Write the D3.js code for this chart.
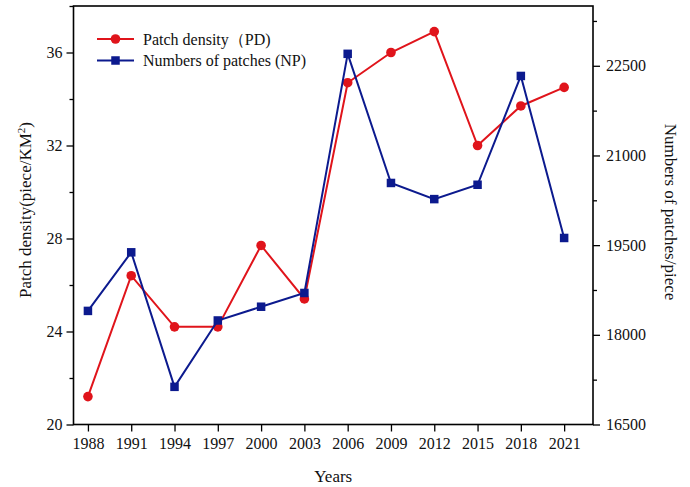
<!DOCTYPE html>
<html>
<head>
<meta charset="utf-8">
<script src="https://cdn.jsdelivr.net/npm/d3@7"></script>
<style>
  html, body { margin: 0; padding: 0; background: #fff; }
  svg { display: block; font-family: "Liberation Serif", "Times New Roman", serif; }
</style>
</head>
<body>
<svg id="chart" width="690" height="487"></svg>
<script>
// Landscape fragmentation metrics by survey year
const years = [1988, 1991, 1994, 1997, 2000, 2003, 2006, 2009, 2012, 2015, 2018, 2021];
const patchDensity = [21.2, 26.4, 24.2, 24.2, 27.7, 25.4, 34.7, 36.0, 36.9, 32.0, 33.7, 34.5];
const patchCount = [18400, 19380, 17130, 18240, 18470, 18700, 22700, 20540, 20270, 20510, 22330, 19620];
const leftTicks = [20, 24, 28, 32, 36];
const rightTicks = [16500, 18000, 19500, 21000, 22500];

const svg = d3.select("#chart");
const m = { left: 73.5, right: 593, top: 6, bottom: 424.5 };
const red = "#e0141b", blue = "#0c1a8e";

const x = d3.scaleLinear().domain([1987, 2023]).range([m.left, m.right]);
const yL = d3.scaleLinear().domain([20, 38]).range([m.bottom, m.top]);
const yR = d3.scaleLinear().domain([16500, 23500]).range([m.bottom, m.top]);

const fontSize = 16;
const titleSize = 17;

// Minor ticks (unlabelled) then major ticks
function drawAxis(axis, transform) {
  const g = svg.append("g").attr("transform", transform).call(axis);
  g.select(".domain").remove();
  g.selectAll("line").attr("stroke", "#000").attr("stroke-width", 1.3);
  g.selectAll("text").attr("font-size", fontSize).attr("fill", "#111")
    .attr("font-family", "Liberation Serif, serif");
  return g;
}

const leftMinor = d3.range(22, 39, 4);
const rightMinor = d3.range(17250, 23500, 1500);

drawAxis(d3.axisLeft(yL).tickValues(leftMinor).tickSize(4).tickFormat(""), `translate(${m.left},0)`);
drawAxis(d3.axisLeft(yL).tickValues(leftTicks).tickSize(7).tickPadding(4).tickFormat(d3.format("d")), `translate(${m.left},0)`);
drawAxis(d3.axisRight(yR).tickValues(rightMinor).tickSize(4).tickFormat(""), `translate(${m.right},0)`);
drawAxis(d3.axisRight(yR).tickValues(rightTicks).tickSize(7).tickPadding(6).tickFormat(d3.format("d")), `translate(${m.right},0)`);
drawAxis(d3.axisBottom(x).tickValues(years).tickSize(7).tickPadding(6).tickFormat(d3.format("d")), `translate(0,${m.bottom})`);

// Frame
svg.append("rect")
  .attr("x", m.left).attr("y", m.top)
  .attr("width", m.right - m.left).attr("height", m.bottom - m.top)
  .attr("fill", "none").attr("stroke", "#000").attr("stroke-width", 1.6);

// Axis titles
svg.append("text")
  .attr("x", (m.left + m.right) / 2).attr("y", 482)
  .attr("text-anchor", "middle").attr("font-size", titleSize).attr("fill", "#111")
  .text("Years");

const lt = svg.append("text")
  .attr("transform", `translate(31,210) rotate(-90)`)
  .attr("text-anchor", "middle").attr("font-size", titleSize).attr("fill", "#111");
lt.append("tspan").text("Patch density(piece/KM");
lt.append("tspan").attr("dy", -6).attr("font-size", 11).text("2");
lt.append("tspan").attr("dy", 6).text(")");

svg.append("text")
  .attr("transform", `translate(665,212) rotate(90)`)
  .attr("text-anchor", "middle").attr("font-size", titleSize).attr("fill", "#111")
  .text("Numbers of patches/piece");

// Series
const pdLine = d3.line().x((d, i) => x(years[i])).y(d => yL(d));
const npLine = d3.line().x((d, i) => x(years[i])).y(d => yR(d));

svg.append("path").datum(patchDensity).attr("d", pdLine)
  .attr("fill", "none").attr("stroke", red).attr("stroke-width", 2);
svg.selectAll(".pd").data(patchDensity).enter().append("circle")
  .attr("class", "pd")
  .attr("cx", (d, i) => x(years[i])).attr("cy", d => yL(d))
  .attr("r", 4.8).attr("fill", red);

svg.append("path").datum(patchCount).attr("d", npLine)
  .attr("fill", "none").attr("stroke", blue).attr("stroke-width", 2);
const sq = 8.5;
svg.selectAll(".np").data(patchCount).enter().append("rect")
  .attr("class", "np")
  .attr("x", (d, i) => x(years[i]) - sq / 2).attr("y", d => yR(d) - sq / 2)
  .attr("width", sq).attr("height", sq).attr("fill", blue);

// Legend
const legend = [
  { label: "Patch density（PD)", color: red, shape: "circle" },
  { label: "Numbers of patches (NP)", color: blue, shape: "square" }
];
legend.forEach((d, i) => {
  const ly = 39 + i * 21.5;
  const g = svg.append("g");
  g.append("line").attr("x1", 97).attr("x2", 134).attr("y1", ly).attr("y2", ly)
    .attr("stroke", d.color).attr("stroke-width", 2);
  if (d.shape === "circle") {
    g.append("circle").attr("cx", 115.5).attr("cy", ly).attr("r", 4.8).attr("fill", d.color);
  } else {
    g.append("rect").attr("x", 115.5 - sq / 2).attr("y", ly - sq / 2)
      .attr("width", sq).attr("height", sq).attr("fill", d.color);
  }
  g.append("text").attr("x", 143).attr("y", ly + 5.5)
    .attr("font-size", fontSize).attr("fill", "#111").text(d.label);
});
</script>
</body>
</html>
